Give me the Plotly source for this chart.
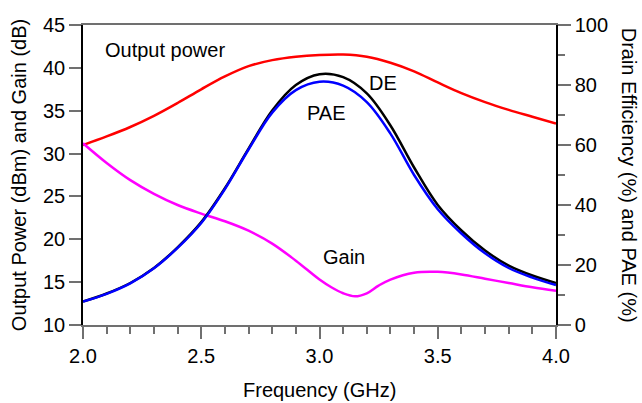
import plotly.graph_objects as go

freq = [2.0, 2.1, 2.2, 2.3, 2.4, 2.5, 2.6, 2.7, 2.8, 2.9, 3.0, 3.1, 3.2, 3.3, 3.4, 3.5, 3.6, 3.7, 3.8, 3.9, 4.0]
output_power = [31.0, 32.0, 33.1, 34.4, 35.9, 37.5, 39.0, 40.2, 40.9, 41.3, 41.5, 41.55, 41.3, 40.6, 39.6, 38.3, 37.05, 36.0, 35.1, 34.3, 33.5]
gain_freq = [2.0, 2.1, 2.2, 2.3, 2.4, 2.5, 2.6, 2.7, 2.8, 2.9, 3.0, 3.05, 3.1, 3.15, 3.2, 3.25, 3.3, 3.4, 3.5, 3.6, 3.7, 3.8, 3.9, 4.0]
gain = [31.2, 28.9, 26.9, 25.3, 24.0, 23.0, 22.1, 21.0, 19.5, 17.5, 15.3, 14.4, 13.7, 13.35, 13.7, 14.6, 15.3, 16.1, 16.2, 15.9, 15.4, 14.9, 14.4, 14.0]
de = [7.8, 10.5, 14.0, 19.0, 25.9, 34.3, 45.6, 58.8, 71.5, 80.0, 83.6, 82.6, 77.2, 66.5, 52.5, 40.0, 31.5, 24.8, 19.8, 16.5, 14.0]
pae = [7.8, 10.4, 13.9, 18.9, 25.7, 34.0, 45.3, 58.5, 70.8, 78.3, 81.1, 79.8, 74.3, 63.8, 50.0, 38.6, 30.5, 23.9, 19.0, 15.8, 13.3]

FONT = "Liberation Sans, Arial, sans-serif"

fig = go.Figure()
fig.add_trace(go.Scatter(x=freq, y=output_power, mode="lines", line=dict(color="#ff0000", width=2.5, shape="spline"), yaxis="y"))
fig.add_trace(go.Scatter(x=gain_freq, y=gain, mode="lines", line=dict(color="#ff00ff", width=2.5, shape="spline"), yaxis="y"))
fig.add_trace(go.Scatter(x=freq, y=de, mode="lines", line=dict(color="#000000", width=2.5, shape="spline"), yaxis="y2"))
fig.add_trace(go.Scatter(x=freq, y=pae, mode="lines", line=dict(color="#0000ff", width=2.5, shape="spline"), yaxis="y2"))

ann = dict(showarrow=False, font=dict(family=FONT, size=20, color="black"))
fig.add_annotation(x=2.083, y=42.1, xref="x", yref="y", text="Output power", xanchor="left", **ann)
fig.add_annotation(x=3.27, y=38.2, xref="x", yref="y", text="DE", **ann)
fig.add_annotation(x=3.03, y=34.7, xref="x", yref="y", text="PAE", **ann)
fig.add_annotation(x=3.105, y=17.9, xref="x", yref="y", text="Gain", **ann)

# axis titles placed as annotations for exact positioning
fig.add_annotation(x=-0.135, y=0.5, xref="paper", yref="paper", text="Output Power (dBm) and Gain (dB)",
                   textangle=-90, xanchor="center", yanchor="middle", **ann)
fig.add_annotation(x=1.155, y=0.5, xref="paper", yref="paper", text="Drain Efficiency (%) and PAE (%)",
                   textangle=90, xanchor="center", yanchor="middle", **ann)
fig.add_annotation(x=0.5, y=-0.217, xref="paper", yref="paper", text="Frequency (GHz)",
                   xanchor="center", yanchor="middle", **ann)

fig.update_layout(
    width=642, height=403,
    margin=dict(l=83, r=86, t=25, b=78),
    paper_bgcolor="white", plot_bgcolor="white",
    showlegend=False,
    font=dict(family=FONT, size=20, color="black"),
    xaxis=dict(
        range=[2.0, 4.0], dtick=0.5, tick0=2.0, tickformat=".1f",
        showgrid=False, zeroline=False, automargin=False,
        showline=True, linecolor="#707070", linewidth=1.5, mirror=True,
        ticks="outside", ticklen=12, tickcolor="#707070", tickwidth=1.5,
        minor=dict(dtick=0.1, ticks="outside", ticklen=7, tickcolor="#707070", tickwidth=1.5),
        tickfont=dict(size=20),
    ),
    yaxis=dict(
        range=[10, 45], dtick=5,
        showgrid=False, zeroline=False, automargin=False,
        showline=True, linecolor="black", linewidth=1.5,
        ticks="outside", ticklen=12, tickcolor="#707070", tickwidth=1.5,
        tickfont=dict(size=20),
    ),
    yaxis2=dict(
        range=[0, 100], dtick=20, overlaying="y", side="right",
        showgrid=False, zeroline=False, automargin=False,
        showline=True, linecolor="black", linewidth=1.5,
        ticks="outside", ticklen=13, tickcolor="#707070", tickwidth=1.5,
        minor=dict(dtick=10, ticks="outside", ticklen=7, tickcolor="#707070", tickwidth=1.5),
        tickfont=dict(size=20),
    ),
)

fig.write_html("out.html")
